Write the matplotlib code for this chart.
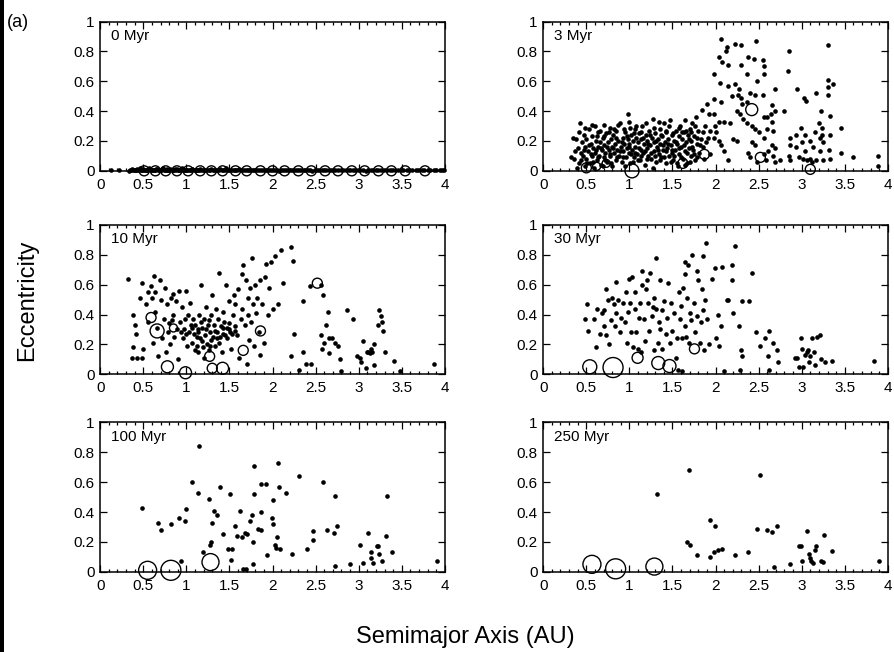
import matplotlib
matplotlib.use("Agg")
import matplotlib.pyplot as plt
from matplotlib.ticker import MultipleLocator, FixedLocator
from matplotlib.patches import Rectangle

plt.rcParams['font.family'] = ['Liberation Sans', 'DejaVu Sans']

# ---- labels / ticks ----
panel_labels = ["0 Myr", "3 Myr", "10 Myr", "30 Myr", "100 Myr", "250 Myr"]
x_ticks = [0, 0.5, 1, 1.5, 2, 2.5, 3, 3.5, 4]
x_tick_labels = ["0", "0.5", "1", "1.5", "2", "2.5", "3", "3.5", "4"]
y_ticks = [0, 0.2, 0.4, 0.6, 0.8, 1]
y_tick_labels = ["0", "0.2", "0.4", "0.6", "0.8", "1"]

# ---- small bodies (a [AU], e) ----
dots_0myr = [
    (0.12, 0.003), (0.22, 0.004), (0.33, 0.002), (0.36, 0.006), (0.38, 0.004), (0.41, 0.008),
    (0.44, 0.003), (0.46, 0.020), (0.49, 0.006), (0.52, 0.004), (0.55, 0.009), (0.57, 0.018),
    (0.60, 0.005), (0.63, 0.003), (0.65, 0.010), (0.68, 0.006), (0.71, 0.004), (0.73, 0.016),
    (0.76, 0.007), (0.79, 0.003), (0.81, 0.009), (0.84, 0.005), (0.87, 0.012), (0.90, 0.004),
    (0.92, 0.007), (0.95, 0.020), (0.98, 0.005), (1.01, 0.008), (1.04, 0.003), (1.07, 0.010),
    (1.10, 0.006), (1.13, 0.004), (1.16, 0.012), (1.19, 0.005), (1.22, 0.008), (1.26, 0.003),
    (1.29, 0.010), (1.32, 0.006), (1.36, 0.004), (1.39, 0.009), (1.43, 0.005), (1.46, 0.018),
    (1.50, 0.004), (1.54, 0.007), (1.57, 0.003), (1.61, 0.009), (1.65, 0.005), (1.69, 0.006),
    (1.73, 0.003), (1.77, 0.008), (1.81, 0.004), (1.85, 0.006), (1.90, 0.003), (1.94, 0.007),
    (1.98, 0.004), (2.03, 0.006), (2.07, 0.002), (2.12, 0.008), (2.17, 0.004), (2.21, 0.005),
    (2.26, 0.003), (2.31, 0.007), (2.36, 0.004), (2.41, 0.006), (2.46, 0.002), (2.52, 0.005),
    (2.57, 0.007), (2.62, 0.003), (2.68, 0.006), (2.73, 0.004), (2.79, 0.005), (2.85, 0.003),
    (2.90, 0.006), (2.96, 0.004), (3.02, 0.005), (3.08, 0.002), (3.14, 0.006), (3.20, 0.004),
    (3.26, 0.005), (3.33, 0.003), (3.39, 0.006), (3.46, 0.004), (3.52, 0.005), (3.59, 0.003),
    (3.66, 0.005), (3.73, 0.004), (3.80, 0.006), (3.87, 0.003), (3.94, 0.005), (3.99, 0.004),
    (0.35, 0.005), (0.37, 0.009), (0.39, 0.003), (0.40, 0.006), (0.42, 0.004), (0.43, 0.010),
    (0.45, 0.005), (0.47, 0.003), (0.48, 0.008), (0.50, 0.012), (0.51, 0.005), (0.53, 0.003),
    (0.54, 0.007), (0.56, 0.004), (0.58, 0.010), (0.59, 0.006), (0.61, 0.003), (0.62, 0.008),
    (0.64, 0.005), (0.66, 0.012), (0.67, 0.004), (0.69, 0.007), (0.70, 0.003), (0.72, 0.009),
    (0.74, 0.005), (0.75, 0.004), (0.77, 0.010), (0.78, 0.006), (0.80, 0.003), (0.83, 0.008),
    (0.85, 0.005), (0.86, 0.003), (0.88, 0.006), (0.89, 0.011), (0.91, 0.004), (0.94, 0.006),
    (0.96, 0.003), (0.97, 0.008), (0.99, 0.005), (1.00, 0.003), (1.03, 0.007), (1.05, 0.004),
    (1.06, 0.009), (1.09, 0.005), (1.11, 0.003), (1.12, 0.007), (1.15, 0.004), (1.17, 0.006),
    (1.21, 0.003), (1.24, 0.007), (1.27, 0.005), (1.31, 0.003), (1.34, 0.008), (1.38, 0.004),
    (1.41, 0.006), (1.45, 0.003), (1.48, 0.007), (1.52, 0.004), (1.56, 0.006), (1.59, 0.003),
    (1.63, 0.007), (1.67, 0.004), (1.71, 0.006), (1.75, 0.003), (1.79, 0.005), (1.83, 0.007),
    (1.88, 0.004), (1.92, 0.005), (1.96, 0.003), (2.01, 0.007), (2.05, 0.004), (2.10, 0.005),
    (2.14, 0.003), (2.19, 0.006), (2.24, 0.004), (2.28, 0.005), (2.33, 0.003), (2.38, 0.006),
    (2.44, 0.004), (2.49, 0.007), (2.54, 0.003), (2.60, 0.005), (2.65, 0.004), (2.70, 0.006),
    (2.76, 0.003), (2.82, 0.005), (2.88, 0.004), (2.93, 0.006), (2.99, 0.003), (3.05, 0.005),
    (3.11, 0.004), (3.17, 0.006), (3.23, 0.003), (3.29, 0.005), (3.36, 0.004), (3.42, 0.006),
    (3.49, 0.003), (3.56, 0.005), (3.62, 0.004), (3.69, 0.006), (3.76, 0.003), (3.83, 0.005),
    (3.90, 0.004), (3.97, 0.006),
]

dots_3myr = [
    # inner dense belt
    (0.32, 0.09), (0.34, 0.22), (0.36, 0.08), (0.38, 0.21), (0.40, 0.15), (0.41, 0.05),
    (0.43, 0.32), (0.44, 0.12), (0.45, 0.19), (0.46, 0.10), (0.47, 0.24), (0.48, 0.03),
    (0.49, 0.16), (0.50, 0.08), (0.50, 0.21), (0.52, 0.13), (0.53, 0.28), (0.54, 0.05),
    (0.55, 0.18), (0.56, 0.10), (0.57, 0.23), (0.58, 0.15), (0.59, 0.02), (0.60, 0.30),
    (0.60, 0.12), (0.61, 0.20), (0.62, 0.07), (0.63, 0.16), (0.64, 0.26), (0.65, 0.10),
    (0.66, 0.19), (0.67, 0.04), (0.68, 0.14), (0.69, 0.22), (0.70, 0.31), (0.70, 0.09),
    (0.71, 0.17), (0.72, 0.12), (0.73, 0.25), (0.74, 0.06), (0.75, 0.19), (0.76, 0.14),
    (0.77, 0.29), (0.78, 0.10), (0.79, 0.21), (0.80, 0.03), (0.80, 0.16), (0.81, 0.24),
    (0.82, 0.12), (0.83, 0.18), (0.84, 0.07), (0.85, 0.27), (0.86, 0.14), (0.87, 0.20),
    (0.88, 0.10), (0.89, 0.32), (0.90, 0.16), (0.91, 0.06), (0.92, 0.22), (0.93, 0.13),
    (0.94, 0.18), (0.95, 0.26), (0.96, 0.09), (0.97, 0.15), (0.98, 0.38), (0.98, 0.21),
    (0.99, 0.12), (1.00, 0.33), (1.00, 0.18), (1.01, 0.05), (1.02, 0.24), (1.03, 0.14),
    (1.04, 0.20), (1.05, 0.09), (1.06, 0.28), (1.07, 0.16), (1.08, 0.22), (1.09, 0.11),
    (1.10, 0.19), (1.11, 0.25), (1.12, 0.07), (1.13, 0.14), (1.14, 0.21), (1.15, 0.30),
    (1.16, 0.12), (1.17, 0.18), (1.18, 0.04), (1.19, 0.24), (1.20, 0.15), (1.21, 0.20),
    (1.22, 0.10), (1.23, 0.27), (1.24, 0.17), (1.25, 0.08), (1.26, 0.22), (1.27, 0.35),
    (1.28, 0.13), (1.29, 0.19), (1.30, 0.25), (1.31, 0.06), (1.32, 0.16), (1.33, 0.21),
    (1.34, 0.11), (1.35, 0.28), (1.36, 0.18), (1.37, 0.09), (1.38, 0.23), (1.39, 0.14),
    (1.40, 0.32), (1.41, 0.19), (1.42, 0.05), (1.43, 0.26), (1.44, 0.15), (1.45, 0.21),
    (1.46, 0.10), (1.47, 0.34), (1.48, 0.17), (1.49, 0.24), (1.50, 0.12), (1.51, 0.07),
    (1.52, 0.20), (1.53, 0.14), (1.54, 0.27), (1.55, 0.18), (1.56, 0.03), (1.57, 0.23),
    (1.58, 0.11), (1.59, 0.30), (1.60, 0.16), (1.61, 0.21), (1.62, 0.08), (1.63, 0.26),
    (1.64, 0.13), (1.65, 0.34), (1.66, 0.19), (1.67, 0.05), (1.68, 0.24), (1.69, 0.15),
    (1.70, 0.28), (1.71, 0.10), (1.72, 0.20), (1.73, 0.32), (1.74, 0.14), (1.75, 0.23),
    (1.76, 0.07), (1.77, 0.36), (1.78, 0.18), (1.80, 0.27), (1.81, 0.12), (1.83, 0.21),
    (1.84, 0.41), (1.86, 0.16), (1.88, 0.30), (1.90, 0.45), (1.91, 0.22), (1.93, 0.11),
    (0.37, 0.13), (0.39, 0.02), (0.42, 0.26), (0.44, 0.07), (0.47, 0.14), (0.49, 0.29),
    (0.51, 0.05), (0.53, 0.17), (0.55, 0.11), (0.57, 0.31), (0.58, 0.06), (0.61, 0.14),
    (0.62, 0.23), (0.64, 0.09), (0.66, 0.27), (0.67, 0.15), (0.69, 0.03), (0.71, 0.23),
    (0.72, 0.07), (0.74, 0.16), (0.76, 0.26), (0.77, 0.11), (0.79, 0.05), (0.81, 0.15),
    (0.82, 0.28), (0.84, 0.22), (0.86, 0.09), (0.87, 0.31), (0.89, 0.13), (0.91, 0.19),
    (0.92, 0.09), (0.94, 0.28), (0.95, 0.03), (0.97, 0.23), (0.99, 0.16), (1.01, 0.29),
    (1.02, 0.11), (1.04, 0.06), (1.05, 0.25), (1.07, 0.12), (1.08, 0.30), (1.10, 0.07),
    (1.11, 0.15), (1.13, 0.26), (1.14, 0.10), (1.16, 0.22), (1.18, 0.13), (1.19, 0.32),
    (1.21, 0.08), (1.22, 0.18), (1.24, 0.24), (1.25, 0.12), (1.27, 0.02), (1.28, 0.29),
    (1.30, 0.10), (1.31, 0.20), (1.33, 0.14), (1.34, 0.33), (1.36, 0.07), (1.37, 0.24),
    (1.39, 0.17), (1.40, 0.09), (1.42, 0.27), (1.43, 0.13), (1.45, 0.18), (1.46, 0.30),
    (1.48, 0.06), (1.49, 0.14), (1.51, 0.25), (1.52, 0.10), (1.54, 0.19), (1.55, 0.05),
    (1.57, 0.15), (1.58, 0.29), (1.60, 0.09), (1.61, 0.26), (1.63, 0.17), (1.64, 0.04),
    (1.66, 0.27), (1.67, 0.12), (1.69, 0.21), (1.70, 0.06), (1.72, 0.26), (1.73, 0.16),
    (1.75, 0.11), (1.76, 0.30), (1.78, 0.09), (1.79, 0.22), (1.82, 0.17), (1.85, 0.26),
    (1.87, 0.08), (1.89, 0.19), (1.92, 0.38), (1.94, 0.27),
    # outer excited region
    (2.06, 0.88), (2.47, 0.87), (2.23, 0.85), (2.29, 0.84), (2.13, 0.83), (2.12, 0.80),
    (2.85, 0.80), (3.30, 0.84), (2.04, 0.76), (2.08, 0.73), (2.15, 0.71), (2.38, 0.76),
    (2.45, 0.75), (2.55, 0.74), (2.56, 0.70), (2.29, 0.71), (2.84, 0.67), (1.98, 0.65),
    (2.37, 0.65), (2.56, 0.65), (2.05, 0.59), (2.14, 0.57), (2.22, 0.58), (2.27, 0.55),
    (2.48, 0.60), (2.69, 0.55), (2.94, 0.55), (3.17, 0.52), (3.31, 0.61), (3.30, 0.56),
    (3.36, 0.58), (3.31, 0.51), (3.03, 0.49), (3.05, 0.47), (1.98, 0.48), (2.06, 0.46),
    (2.19, 0.50), (2.26, 0.51), (2.29, 0.49), (2.40, 0.52), (2.46, 0.51), (2.55, 0.51),
    (2.31, 0.45), (2.37, 0.46), (2.66, 0.44), (2.79, 0.40), (2.64, 0.38), (2.69, 0.40),
    (1.98, 0.38), (2.04, 0.33), (2.10, 0.33), (2.17, 0.32), (2.25, 0.40), (2.28, 0.38),
    (2.32, 0.35), (2.37, 0.32), (2.42, 0.30), (2.46, 0.28), (2.51, 0.26), (2.56, 0.22),
    (2.60, 0.36), (2.65, 0.33), (2.60, 0.28), (2.67, 0.27), (2.56, 0.36), (3.22, 0.40),
    (3.33, 0.37), (3.20, 0.32), (3.23, 0.29), (3.46, 0.29), (2.99, 0.29), (2.87, 0.22),
    (2.93, 0.24), (3.04, 0.24), (3.16, 0.26), (3.21, 0.22), (3.24, 0.24), (3.33, 0.24),
    (3.00, 0.19), (3.10, 0.20), (3.25, 0.19), (2.86, 0.17), (2.93, 0.16), (3.04, 0.13),
    (3.13, 0.16), (3.21, 0.13), (3.32, 0.14), (2.85, 0.10), (2.87, 0.07), (2.97, 0.09),
    (3.01, 0.08), (3.06, 0.07), (3.10, 0.08), (3.12, 0.06), (3.17, 0.07), (3.25, 0.07),
    (3.33, 0.08), (3.46, 0.12), (3.60, 0.09), (3.88, 0.10), (3.89, 0.03), (1.99, 0.30),
    (2.01, 0.26), (2.04, 0.20), (2.06, 0.17), (1.98, 0.22), (2.10, 0.13), (2.15, 0.07),
    (2.20, 0.21), (2.25, 0.20), (2.42, 0.19), (2.46, 0.17), (2.38, 0.12), (2.40, 0.09),
    (2.56, 0.11), (2.61, 0.13), (2.65, 0.17), (2.69, 0.15), (2.67, 0.10), (2.58, 0.07),
    (2.69, 0.06), (2.75, 0.07), (2.48, 0.06),
]

dots_10myr = [
    (0.32, 0.64), (0.38, 0.40), (0.40, 0.33), (0.42, 0.27), (0.38, 0.18), (0.37, 0.11),
    (0.43, 0.11), (0.48, 0.11), (0.48, 0.61), (0.46, 0.51), (0.50, 0.17), (0.53, 0.47),
    (0.55, 0.55), (0.56, 0.35), (0.59, 0.59), (0.60, 0.51), (0.61, 0.21), (0.62, 0.66),
    (0.63, 0.42), (0.64, 0.55), (0.66, 0.31), (0.67, 0.12), (0.69, 0.63), (0.70, 0.50),
    (0.72, 0.24), (0.74, 0.37), (0.75, 0.58), (0.76, 0.15), (0.78, 0.47), (0.79, 0.28),
    (0.80, 0.34), (0.81, 0.20), (0.82, 0.51), (0.83, 0.36), (0.85, 0.40), (0.86, 0.25),
    (0.88, 0.49), (0.89, 0.30), (0.90, 0.10), (0.92, 0.56), (0.93, 0.35), (0.95, 0.45),
    (0.96, 0.24), (0.97, 0.30), (0.98, 0.37), (0.99, 0.56), (1.01, 0.19), (1.02, 0.40),
    (1.03, 0.28), (1.04, 0.48), (1.05, 0.33), (1.07, 0.21), (1.08, 0.37), (1.09, 0.27),
    (1.10, 0.16), (1.10, 0.33), (1.12, 0.25), (1.12, 0.19), (1.14, 0.30), (1.14, 0.15),
    (1.15, 0.40), (1.16, 0.24), (1.17, 0.60), (1.18, 0.31), (1.19, 0.18), (1.20, 0.37),
    (1.21, 0.11), (1.22, 0.26), (1.23, 0.45), (1.24, 0.20), (1.25, 0.33), (1.26, 0.16),
    (1.27, 0.28), (1.28, 0.23), (1.29, 0.40), (1.30, 0.53), (1.31, 0.25), (1.32, 0.33),
    (1.33, 0.19), (1.34, 0.44), (1.35, 0.28), (1.37, 0.37), (1.38, 0.68), (1.39, 0.25),
    (1.40, 0.32), (1.41, 0.15), (1.42, 0.42), (1.43, 0.27), (1.44, 0.35), (1.46, 0.60),
    (1.47, 0.24), (1.47, 0.31), (1.49, 0.49), (1.50, 0.34), (1.51, 0.28), (1.52, 0.17),
    (1.54, 0.40), (1.55, 0.53), (1.56, 0.32), (1.57, 0.47), (1.59, 0.26), (1.60, 0.57),
    (1.61, 0.11), (1.63, 0.37), (1.64, 0.67), (1.65, 0.44), (1.66, 0.73), (1.68, 0.33),
    (1.69, 0.63), (1.70, 0.07), (1.71, 0.40), (1.71, 0.51), (1.73, 0.23), (1.74, 0.58),
    (1.75, 0.35), (1.76, 0.78), (1.77, 0.47), (1.78, 0.19), (1.80, 0.60), (1.81, 0.41),
    (1.82, 0.51), (1.84, 0.28), (1.85, 0.63), (1.86, 0.13), (1.88, 0.47), (1.90, 0.21),
    (1.91, 0.65), (1.93, 0.74), (1.95, 0.40), (1.96, 0.58), (1.98, 0.75), (2.00, 0.44),
    (2.03, 0.79), (2.06, 0.47), (2.10, 0.83), (2.12, 0.61), (2.22, 0.85), (2.24, 0.76),
    (2.25, 0.27), (2.21, 0.12), (2.31, 0.03), (2.35, 0.15), (2.35, 0.49), (2.39, 0.07),
    (2.45, 0.07), (2.44, 0.59), (2.56, 0.26), (2.56, 0.60), (2.57, 0.17), (2.59, 0.53),
    (2.60, 0.21), (2.62, 0.33), (2.64, 0.42), (2.65, 0.24), (2.66, 0.14), (2.69, 0.24),
    (2.72, 0.21), (2.76, 0.19), (2.78, 0.10), (2.80, 0.02), (2.87, 0.43), (2.93, 0.37),
    (2.98, 0.12), (3.01, 0.11), (3.03, 0.08), (3.05, 0.22), (3.08, 0.04), (3.10, 0.15),
    (3.11, 0.15), (3.13, 0.14), (3.14, 0.17), (3.16, 0.15), (3.18, 0.20), (3.18, 0.06),
    (3.23, 0.33), (3.24, 0.43), (3.26, 0.39), (3.27, 0.35), (3.28, 0.29), (3.30, 0.15),
    (3.41, 0.09), (3.48, 0.02), (3.88, 0.07),
    (1.06, 0.31), (1.13, 0.28), (1.18, 0.22), (1.23, 0.30), (1.27, 0.19), (1.33, 0.29),
    (1.36, 0.24), (1.42, 0.31), (1.45, 0.26), (1.50, 0.30), (1.53, 0.27), (1.17, 0.35),
    (0.94, 0.28), (1.00, 0.27), (1.26, 0.36), (1.38, 0.21), (1.57, 0.29), (0.84, 0.54),
]

dots_30myr = [
    (0.49, 0.37), (0.51, 0.47), (0.52, 0.29), (0.59, 0.37), (0.62, 0.44), (0.61, 0.18),
    (0.66, 0.27), (0.68, 0.41), (0.70, 0.43), (0.70, 0.32), (0.73, 0.57), (0.75, 0.50),
    (0.73, 0.26), (0.76, 0.20), (0.79, 0.36), (0.80, 0.51), (0.82, 0.47), (0.83, 0.32),
    (0.84, 0.62), (0.85, 0.41), (0.87, 0.50), (0.89, 0.28), (0.90, 0.38), (0.92, 0.48),
    (0.95, 0.35), (0.96, 0.55), (0.97, 0.21), (0.98, 0.42), (0.99, 0.64), (1.01, 0.48),
    (1.02, 0.28), (1.03, 0.65), (1.04, 0.18), (1.06, 0.44), (1.07, 0.55), (1.08, 0.28),
    (1.10, 0.17), (1.11, 0.38), (1.12, 0.48), (1.13, 0.15), (1.15, 0.60), (1.15, 0.69),
    (1.17, 0.37), (1.18, 0.22), (1.19, 0.57), (1.21, 0.63), (1.22, 0.48), (1.23, 0.29),
    (1.24, 0.68), (1.26, 0.39), (1.27, 0.45), (1.28, 0.16), (1.29, 0.51), (1.31, 0.78),
    (1.31, 0.44), (1.33, 0.21), (1.34, 0.35), (1.35, 0.63), (1.36, 0.30), (1.38, 0.43),
    (1.38, 0.17), (1.40, 0.49), (1.42, 0.27), (1.44, 0.38), (1.45, 0.61), (1.47, 0.21),
    (1.48, 0.48), (1.50, 0.29), (1.52, 0.41), (1.54, 0.11), (1.55, 0.24), (1.57, 0.55),
    (1.59, 0.37), (1.60, 0.46), (1.61, 0.24), (1.62, 0.58), (1.64, 0.75), (1.64, 0.32),
    (1.65, 0.67), (1.66, 0.25), (1.67, 0.51), (1.68, 0.73), (1.69, 0.21), (1.70, 0.41),
    (1.71, 0.36), (1.73, 0.80), (1.75, 0.48), (1.76, 0.28), (1.78, 0.69), (1.79, 0.39),
    (1.80, 0.63), (1.82, 0.21), (1.83, 0.35), (1.84, 0.57), (1.85, 0.79), (1.86, 0.43),
    (1.87, 0.16), (1.88, 0.50), (1.90, 0.37), (1.89, 0.88), (1.92, 0.20), (1.96, 0.64),
    (1.99, 0.71), (2.01, 0.24), (2.03, 0.40), (2.04, 0.19), (2.06, 0.32), (2.08, 0.72),
    (2.13, 0.50), (2.15, 0.50), (2.19, 0.63), (2.20, 0.41), (2.19, 0.73), (2.23, 0.86),
    (2.27, 0.32), (2.29, 0.16), (2.31, 0.12), (2.28, 0.03), (2.31, 0.49), (2.39, 0.49),
    (2.42, 0.68), (2.47, 0.28), (2.52, 0.19), (2.57, 0.24), (2.62, 0.29), (2.61, 0.12),
    (2.62, 0.03), (2.67, 0.21), (2.71, 0.16), (2.72, 0.08), (2.92, 0.11), (2.95, 0.11),
    (2.99, 0.24), (3.00, 0.17), (2.97, 0.05), (3.02, 0.05), (3.04, 0.13), (3.06, 0.15),
    (3.07, 0.16), (3.10, 0.12), (3.08, 0.08), (3.12, 0.24), (3.14, 0.15), (3.16, 0.06),
    (3.18, 0.25), (3.21, 0.26), (3.22, 0.10), (3.27, 0.08), (3.35, 0.09), (3.84, 0.09),
    (1.56, 0.03), (1.61, 0.02), (2.10, 0.02),
]

dots_100myr = [
    (0.49, 0.43), (0.67, 0.33), (0.70, 0.28), (0.82, 0.32), (0.91, 0.36), (0.98, 0.34),
    (0.99, 0.42), (0.94, 0.07), (1.07, 0.60), (1.15, 0.84), (1.13, 0.53), (1.19, 0.13),
    (1.26, 0.49), (1.27, 0.18), (1.29, 0.20), (1.30, 0.33), (1.32, 0.41), (1.35, 0.38),
    (1.39, 0.57), (1.43, 0.25), (1.48, 0.15), (1.53, 0.15), (1.51, 0.52), (1.52, 0.08),
    (1.56, 0.31), (1.59, 0.24), (1.62, 0.41), (1.65, 0.23), (1.68, 0.26), (1.70, 0.25),
    (1.74, 0.34), (1.76, 0.38), (1.77, 0.20), (1.79, 0.71), (1.79, 0.52), (1.77, 0.05),
    (1.83, 0.29), (1.87, 0.28), (1.87, 0.40), (1.87, 0.59), (1.92, 0.59), (1.94, 0.11),
    (1.99, 0.36), (2.00, 0.48), (2.01, 0.32), (2.03, 0.18), (2.04, 0.16), (2.05, 0.23),
    (2.06, 0.73), (2.08, 0.57), (2.09, 0.15), (2.16, 0.53), (2.23, 0.12), (2.31, 0.64),
    (2.40, 0.15), (2.47, 0.27), (2.47, 0.21), (2.59, 0.60), (2.63, 0.28), (2.71, 0.26),
    (2.72, 0.51), (2.72, 0.04), (2.75, 0.31), (2.90, 0.05), (3.01, 0.18), (3.05, 0.06),
    (3.11, 0.26), (3.14, 0.13), (3.14, 0.09), (3.17, 0.06), (3.21, 0.17), (3.22, 0.17),
    (3.24, 0.12), (3.27, 0.07), (3.32, 0.24), (3.33, 0.51), (3.39, 0.13), (3.91, 0.07),
    (1.66, 0.02), (1.69, 0.02),
]

dots_250myr = [
    (1.69, 0.68), (1.32, 0.52), (1.67, 0.20), (1.70, 0.18), (1.79, 0.11), (1.94, 0.35),
    (1.99, 0.31), (1.94, 0.10), (1.98, 0.13), (2.03, 0.145), (2.08, 0.15), (2.22, 0.11),
    (2.38, 0.13), (2.48, 0.29), (2.52, 0.65), (2.60, 0.28), (2.66, 0.265), (2.71, 0.31),
    (2.68, 0.03), (2.86, 0.05), (2.97, 0.17), (2.99, 0.17), (3.00, 0.07), (3.06, 0.27),
    (3.08, 0.12), (3.10, 0.09), (3.11, 0.07), (3.13, 0.06), (3.16, 0.145), (3.17, 0.17),
    (3.22, 0.07), (3.25, 0.065), (3.26, 0.245), (3.35, 0.14), (3.90, 0.07),
]

# ---- embryos (a [AU], e, relative radius) ----
big_0myr = [
    (0.51, 0.0, 5), (0.64, 0.0, 5), (0.76, 0.0, 5), (0.89, 0.0, 5), (1.02, 0.0, 5),
    (1.16, 0.0, 5), (1.29, 0.0, 5), (1.42, 0.0, 5), (1.57, 0.0, 5), (1.70, 0.0, 5),
    (1.86, 0.0, 5), (2.00, 0.0, 5), (2.14, 0.0, 5), (2.30, 0.0, 5), (2.45, 0.0, 5),
    (2.61, 0.0, 5), (2.76, 0.0, 5), (2.92, 0.0, 5), (3.07, 0.0, 5), (3.23, 0.0, 5),
    (3.38, 0.0, 5), (3.54, 0.0, 5), (3.77, 0.0, 5),
]
big_3myr = [
    (0.50, 0.02, 5), (0.62, 0.03, 4), (0.73, 0.05, 4), (1.03, 0.00, 7), (1.62, 0.05, 5),
    (1.87, 0.11, 5), (2.42, 0.41, 6), (2.52, 0.09, 5), (3.10, 0.01, 5),
]
big_10myr = [
    (0.59, 0.38, 5), (0.66, 0.29, 7), (0.85, 0.31, 4), (0.78, 0.05, 6), (0.99, 0.01, 6),
    (1.27, 0.12, 5), (1.30, 0.04, 5), (1.42, 0.04, 6), (1.66, 0.16, 5), (1.86, 0.29, 5),
    (2.52, 0.61, 5),
]
big_30myr = [
    (0.54, 0.05, 7), (0.81, 0.045, 10), (1.095, 0.11, 5.5), (1.335, 0.075, 6.5),
    (1.465, 0.055, 6.5), (1.755, 0.17, 5),
]
big_100myr = [(0.55, 0.01, 9), (0.82, 0.01, 10), (1.28, 0.065, 8.5)]
big_250myr = [(0.565, 0.05, 9), (0.84, 0.02, 10), (1.29, 0.035, 8.5)]

all_dots = [dots_0myr, dots_3myr, dots_10myr, dots_30myr, dots_100myr, dots_250myr]
all_big = [big_0myr, big_3myr, big_10myr, big_30myr, big_100myr, big_250myr]

fig = plt.figure(figsize=(8.95, 6.52), dpi=100)

col_x = [0.112, 0.607]
row_y = [0.738, 0.426, 0.123]
ax_w, ax_h = 0.385, 0.229

for i in range(6):
    ax = fig.add_axes([col_x[i % 2], row_y[i // 2], ax_w, ax_h])
    dots = all_dots[i]
    ax.scatter([p[0] for p in dots], [p[1] for p in dots], s=11, c='black',
               linewidths=0, clip_on=False, zorder=3)
    big = all_big[i]
    # radius in pixels -> marker area in points^2
    sizes = [(2 * b[2] * 0.72) ** 2 for b in big]
    ax.scatter([b[0] for b in big], [b[1] for b in big], s=sizes, facecolors='none',
               edgecolors='black', linewidths=1.0, clip_on=False, zorder=4)

    ax.set_xlim(0, 4)
    ax.set_ylim(0, 1)
    ax.xaxis.set_major_locator(FixedLocator(x_ticks))
    ax.set_xticklabels(x_tick_labels)
    ax.xaxis.set_minor_locator(MultipleLocator(0.1))
    ax.yaxis.set_major_locator(FixedLocator(y_ticks))
    ax.set_yticklabels(y_tick_labels)
    ax.tick_params(which='both', direction='in', top=True, right=True,
                   labelsize=11, width=0.9, pad=5)
    ax.tick_params(which='major', length=5)
    ax.tick_params(which='minor', length=2.5)
    ax.tick_params(axis='y', pad=4)
    for sp in ax.spines.values():
        sp.set_linewidth(1.1)
    ax.text(0.03, 0.95, panel_labels[i], transform=ax.transAxes, fontsize=11,
            va='top', ha='left')

fig.text(0.008, 0.978, "(a)", fontsize=13, ha='left', va='top')
fig.text(0.03, 0.54, "Eccentricity", fontsize=17, rotation=90, ha='center', va='center')
fig.text(0.52, 0.023, "Semimajor Axis (AU)", fontsize=17, ha='center', va='center')

# dark scan edge on the left
fig.patches.append(Rectangle((0, 0), 0.004, 1, transform=fig.transFigure,
                             facecolor='black', edgecolor='none'))

fig.savefig("out.png", dpi=100)
